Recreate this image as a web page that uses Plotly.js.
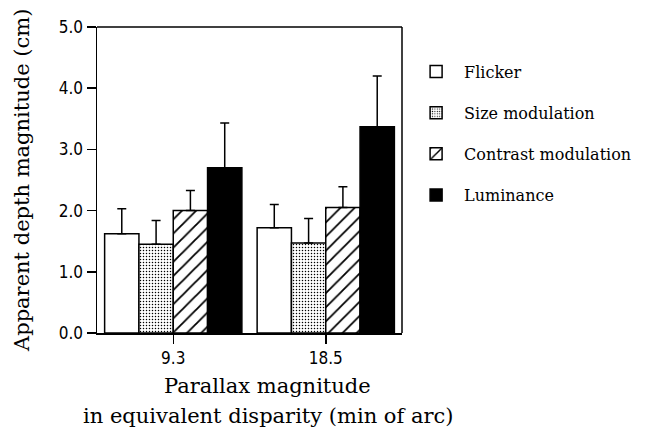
<!DOCTYPE html>
<html>
<head>
<meta charset="utf-8">
<script src="https://cdn.plot.ly/plotly-3.0.1.min.js"></script>
<style>html,body{margin:0;padding:0;background:#fff;}#chart{width:653px;height:431px;}</style>
</head>
<body>
<div id="chart"></div>
<script>
const categories = ['9.3', '18.5'];
const seriesNames = ['Flicker', 'Size modulation', 'Contrast modulation', 'Luminance'];
const flicker = [1.62, 1.72];
const flickerErr = [0.41, 0.38];
const sizeMod = [1.45, 1.47];
const sizeModErr = [0.39, 0.40];
const contrastMod = [2.00, 2.05];
const contrastModErr = [0.33, 0.34];
const luminance = [2.70, 3.37];
const luminanceErr = [0.73, 0.83];
const yTicks = [0, 1, 2, 3, 4, 5];
const yTitle = 'Apparent depth magnitude (cm)';
const xTitleLines = ['Parallax magnitude', 'in equivalent disparity (min of arc)'];

const values = [flicker, sizeMod, contrastMod, luminance];
const errs = [flickerErr, sizeModErr, contrastModErr, luminanceErr];
const fills = [
  {color: '#ffffff', pattern: {shape: ''}},
  {color: '#ffffff', pattern: {shape: '.', fgcolor: '#000000', bgcolor: '#ffffff', fgopacity: 1, size: 3, solidity: 0.2, fillmode: 'replace'}},
  {color: '#ffffff', pattern: {shape: '/', fgcolor: '#000000', bgcolor: '#ffffff', fgopacity: 1, size: 10, solidity: 0.18, fillmode: 'replace'}},
  {color: '#000000', pattern: {shape: ''}}
];

const serif = 'DejaVu Serif, Liberation Serif, serif';
const tickFont = 'DejaVu Sans Condensed, Liberation Sans Narrow, Liberation Sans, sans-serif';

const traces = seriesNames.map((name, i) => ({
  type: 'bar',
  name: name,
  x: categories,
  y: values[i],
  legendgroup: 'g' + i,
  marker: {
    color: fills[i].color,
    pattern: fills[i].pattern,
    line: {color: '#000000', width: 1.5}
  },
  error_y: {
    type: 'data',
    symmetric: false,
    array: errs[i],
    arrayminus: errs[i].map(() => 0),
    color: '#000000',
    thickness: 1.5,
    width: 4.5
  }
}));

const layout = {
  width: 653,
  height: 431,
  margin: {l: 97, r: 251, t: 27, b: 98},
  paper_bgcolor: '#ffffff',
  plot_bgcolor: '#ffffff',
  barmode: 'group',
  bargap: 0.1,
  bargroupgap: 0,
  showlegend: true,
  legend: {
    x: 1.02, y: 0.91, xanchor: 'left', yanchor: 'top',
    traceorder: 'grouped',
    tracegroupgap: 17.4,
    itemwidth: 46,
    font: {family: serif, size: 16, color: '#000000'},
    bgcolor: 'rgba(0,0,0,0)'
  },
  xaxis: {
    type: 'category',
    range: [-0.5, 1.5],
    showline: true, linecolor: '#000000', linewidth: 1.5,
    mirror: false,
    ticks: 'outside', ticklen: 9, tickwidth: 1.5, tickcolor: '#000000',
    tickfont: {family: tickFont, size: 17, color: '#000000'},
    showgrid: false, zeroline: false,
    fixedrange: true
  },
  yaxis: {
    range: [0, 5],
    tickvals: yTicks,
    tickformat: '.1f',
    showline: true, linecolor: '#000000', linewidth: 1.5,
    mirror: false,
    ticks: 'outside', ticklen: 9, tickwidth: 1.5, tickcolor: '#000000',
    tickfont: {family: tickFont, size: 17, color: '#000000'},
    showgrid: false, zeroline: false,
    fixedrange: true
  },
  shapes: [
    {type: 'line', xref: 'paper', yref: 'paper', x0: 0, x1: 1, y0: 1, y1: 1, line: {color: '#000000', width: 1.5}},
    {type: 'line', xref: 'paper', yref: 'paper', x0: 1, x1: 1, y0: 0, y1: 1, line: {color: '#000000', width: 1.5}}
  ],
  annotations: [
    {xref: 'paper', yref: 'paper', x: -0.246, y: 0.5, xanchor: 'center', yanchor: 'middle', showarrow: false,
     textangle: -90, text: yTitle, font: {family: serif, size: 21, color: '#000000'}},
    {xref: 'paper', yref: 'paper', x: 0.56, y: -0.172, xanchor: 'center', yanchor: 'middle', showarrow: false,
     text: xTitleLines[0], font: {family: serif, size: 21, color: '#000000'}},
    {xref: 'paper', yref: 'paper', x: 0.56, y: -0.27, xanchor: 'center', yanchor: 'middle', showarrow: false,
     text: xTitleLines[1], font: {family: serif, size: 21, color: '#000000'}}
  ]
};

Plotly.newPlot('chart', traces, layout, {displayModeBar: false, staticPlot: true});
</script>
</body>
</html>
